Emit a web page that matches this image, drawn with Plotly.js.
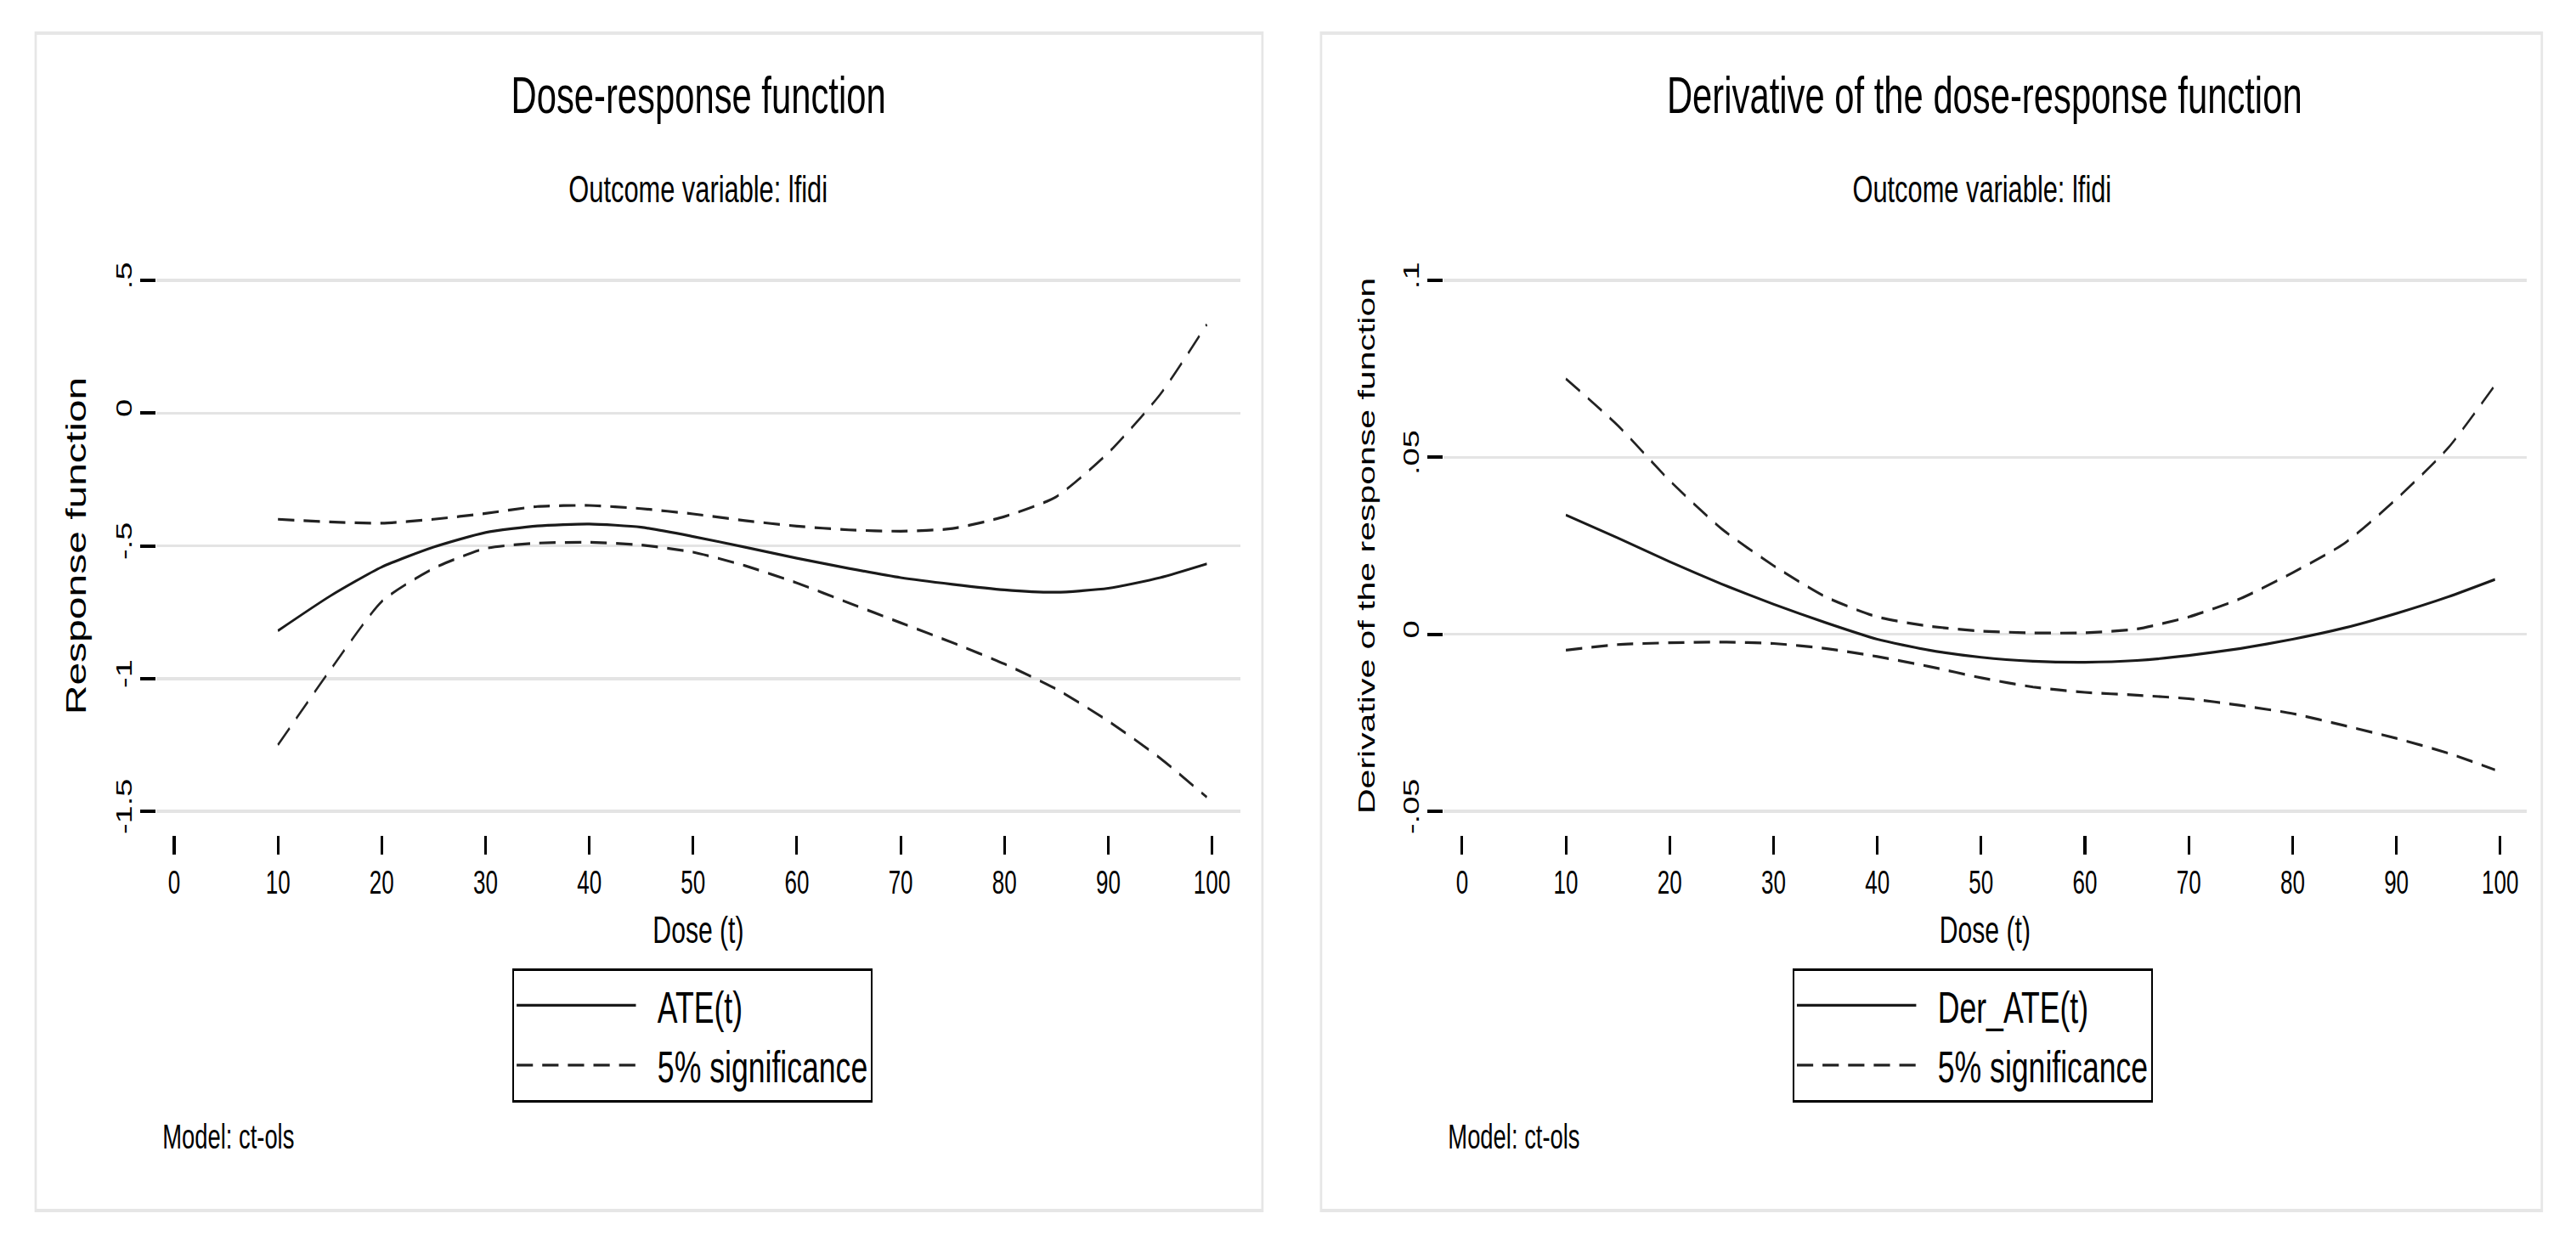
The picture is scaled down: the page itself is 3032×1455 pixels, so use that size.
<!DOCTYPE html>
<html>
<head>
<meta charset="utf-8">
<script src="https://cdn.plot.ly/plotly-3.0.1.min.js"></script>
<style>
  html, body { margin: 0; padding: 0; background: #ffffff; overflow: hidden; }
  #chart { width: 4426px; height: 1455px; }
</style>
</head>
<body>
<div id="chart"></div>
<script>
// ---------- data ----------
const dose = [10, 15, 20, 25, 30, 35, 40, 45, 50, 55, 60, 65, 70, 75, 80, 85, 90, 95, 99.5];

// Left panel: dose-response function
const ate      = [-0.82, -0.69, -0.58, -0.505, -0.45, -0.425, -0.418, -0.43, -0.465, -0.505, -0.547, -0.585, -0.62, -0.645, -0.666, -0.675, -0.66, -0.62, -0.568];
const ateUpper = [-0.40, -0.41, -0.415, -0.40, -0.378, -0.352, -0.348, -0.36, -0.38, -0.405, -0.426, -0.44, -0.445, -0.435, -0.39, -0.315, -0.15, 0.07, 0.334];
const ateLower = [-1.25, -0.97, -0.71, -0.585, -0.51, -0.49, -0.487, -0.497, -0.524, -0.575, -0.64, -0.715, -0.79, -0.865, -0.945, -1.04, -1.16, -1.30, -1.447];

// Right panel: derivative of the dose-response function
const der      = [0.0337, 0.0272, 0.0205, 0.0142, 0.0085, 0.0033, -0.0014, -0.0045, -0.0065, -0.0076, -0.0079, -0.0074, -0.006, -0.004, -0.0014, 0.0018, 0.0059, 0.0106, 0.0155];
const derUpper = [0.0722, 0.059, 0.0434, 0.0298, 0.0194, 0.0106, 0.0049, 0.0023, 0.0009, 0.0004, 0.0004, 0.0015, 0.0049, 0.0101, 0.0174, 0.0257, 0.0382, 0.0527, 0.0704];
const derLower = [-0.0045, -0.0029, -0.0024, -0.0022, -0.0026, -0.004, -0.0063, -0.0091, -0.0123, -0.0149, -0.0164, -0.0172, -0.0182, -0.0201, -0.0224, -0.0258, -0.0294, -0.0336, -0.0383];

const xTicks = [0, 10, 20, 30, 40, 50, 60, 70, 80, 90, 100];
const yTicksLeft = [0.5, 0, -0.5, -1, -1.5];
const yTextLeft  = [".5", "0", "-.5", "-1", "-1.5"];
const yTicksRight = [0.1, 0.05, 0, -0.05];
const yTextRight  = [".1", ".05", "0", "-.05"];

// ---------- geometry helpers (screen px -> paper fraction) ----------
const SW = 3032, SH = 1455, K = 0.685;   // K: horizontal condensation of the reference
const fx = v => v / SW;
const fy = v => 1 - v / SH;
const FONT = "Liberation Sans, Arial, Helvetica, sans-serif";

const solid = {color: '#1a1a1a', width: 3.2, shape: 'spline', smoothing: 0.6};
const dashed = {color: '#222222', width: 3.2, dash: '28px,16px', shape: 'spline', smoothing: 0.6};

const traces = [
  {x: dose, y: ate, name: 'ATE(t)', mode: 'lines', line: solid, xaxis: 'x', yaxis: 'y', legend: 'legend', legendgroup: 'a1'},
  {x: dose, y: ateUpper, name: '5% significance', mode: 'lines', line: dashed, xaxis: 'x', yaxis: 'y', legend: 'legend', legendgroup: 'a2'},
  {x: dose, y: ateLower, name: '5% significance', mode: 'lines', line: dashed, xaxis: 'x', yaxis: 'y', legend: 'legend', legendgroup: 'a2', showlegend: false},
  {x: dose, y: der, name: 'Der_ATE(t)', mode: 'lines', line: solid, xaxis: 'x2', yaxis: 'y2', legend: 'legend2', legendgroup: 'b1'},
  {x: dose, y: derUpper, name: '5% significance', mode: 'lines', line: dashed, xaxis: 'x2', yaxis: 'y2', legend: 'legend2', legendgroup: 'b2'},
  {x: dose, y: derLower, name: '5% significance', mode: 'lines', line: dashed, xaxis: 'x2', yaxis: 'y2', legend: 'legend2', legendgroup: 'b2', showlegend: false}
];

function xAxis(domain, range) {
  return {
    domain: domain, range: range, anchor: 'free', position: fy(983),
    tickmode: 'array', tickvals: xTicks, ticktext: xTicks.map(String),
    ticks: 'outside', ticklen: 22, tickwidth: 4.5, tickcolor: '#000',
    showgrid: false, zeroline: false, showline: false,
    tickfont: {size: 38, color: '#000', family: FONT},
    title: {text: 'Dose (t)', font: {size: 44, color: '#000', family: FONT}, standoff: 20},
    automargin: false, fixedrange: true
  };
}
function yAxis(domain, range, vals, text, title, titleSize, anchor) {
  return {
    domain: domain, range: range, anchor: anchor,
    tickmode: 'array', tickvals: vals, ticktext: text, tickangle: -90,
    ticks: 'outside', ticklen: 26, tickwidth: 4, tickcolor: '#000',
    showgrid: true, gridcolor: '#e4e4e4', gridwidth: 3.5,
    zeroline: false, showline: false,
    tickfont: {size: 38, color: '#000', family: FONT},
    title: {text: title, font: {size: titleSize, color: '#000', family: FONT}, standoff: 28},
    automargin: false, fixedrange: true
  };
}

const yDom = [fy(960), fy(325)];

const legendBase = {
  yanchor: 'top', xanchor: 'center', y: fy(1140),
  bordercolor: '#000', borderwidth: 3, bgcolor: '#ffffff',
  font: {size: 52, color: '#000', family: FONT},
  itemwidth: 237, tracegroupgap: 0, orientation: 'v', traceorder: 'normal'
};

const layout = {
  width: Math.round(SW / K), height: SH,
  margin: {l: 0, r: 0, t: 0, b: 0},
  paper_bgcolor: '#ffffff', plot_bgcolor: '#ffffff',
  font: {family: FONT, color: '#000'},
  showlegend: true,
  xaxis: xAxis([fx(184), fx(1460)], [-1.72, 102.73]),
  yaxis: yAxis(yDom, [-1.516, 0.516], yTicksLeft, yTextLeft, 'Response function', 48, 'x'),
  xaxis2: xAxis([fx(1699), fx(2974)], [-1.8, 102.54]),
  yaxis2: yAxis(yDom, [-0.0512, 0.1012], yTicksRight, yTextRight, 'Derivative of the response function', 41, 'x2'),
  legend: Object.assign({}, legendBase, {x: fx(815)}),
  legend2: Object.assign({}, legendBase, {x: fx(2322)}),
  shapes: [
    {type: 'rect', xref: 'paper', yref: 'paper', x0: fx(42), x1: fx(1486), y0: fy(1425), y1: fy(39), line: {color: '#e6e6e6', width: 4}, layer: 'below'},
    {type: 'rect', xref: 'paper', yref: 'paper', x0: fx(1555), x1: fx(2992), y0: fy(1425), y1: fy(39), line: {color: '#e6e6e6', width: 4}, layer: 'below'}
  ],
  annotations: [
    {text: 'Dose-response function', xref: 'paper', yref: 'paper', x: fx(822), y: fy(112), xanchor: 'center', yanchor: 'middle', showarrow: false, font: {size: 61, color: '#000', family: FONT}},
    {text: 'Outcome variable: lfidi', xref: 'paper', yref: 'paper', x: fx(822), y: fy(222), xanchor: 'center', yanchor: 'middle', showarrow: false, font: {size: 45, color: '#000', family: FONT}},
    {text: 'Model: ct-ols', xref: 'paper', yref: 'paper', x: fx(190), y: fy(1338), xanchor: 'left', yanchor: 'middle', showarrow: false, font: {size: 40, color: '#000', family: FONT}},
    {text: 'Derivative of the dose-response function', xref: 'paper', yref: 'paper', x: fx(2336), y: fy(112), xanchor: 'center', yanchor: 'middle', showarrow: false, font: {size: 61, color: '#000', family: FONT}},
    {text: 'Outcome variable: lfidi', xref: 'paper', yref: 'paper', x: fx(2333), y: fy(222), xanchor: 'center', yanchor: 'middle', showarrow: false, font: {size: 45, color: '#000', family: FONT}},
    {text: 'Model: ct-ols', xref: 'paper', yref: 'paper', x: fx(1703), y: fy(1338), xanchor: 'left', yanchor: 'middle', showarrow: false, font: {size: 40, color: '#000', family: FONT}}
  ]
};

const gd = document.getElementById('chart');
Plotly.newPlot(gd, traces, layout, {displayModeBar: false, staticPlot: true}).then(() => {
  // Longer legend line samples, as in the reference
  gd.querySelectorAll('.legendlines path').forEach(p => p.setAttribute('d', 'M5,0h205'));
  // The reference is horizontally condensed; reproduce that
  gd.style.transformOrigin = '0 0';
  gd.style.transform = 'scaleX(' + K + ')';
});
</script>
</body>
</html>
